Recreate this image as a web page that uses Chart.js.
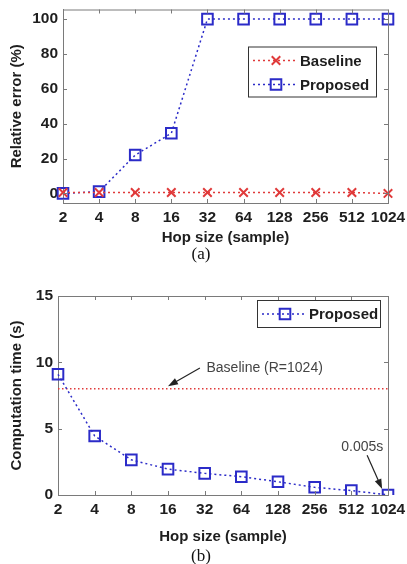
<!DOCTYPE html>
<html>
<head>
<meta charset="utf-8">
<script src="https://cdn.jsdelivr.net/npm/chart.js@4.4.1/dist/chart.umd.min.js"></script>
<style>
html, body { margin: 0; padding: 0; background: #fff; }
canvas { display: block; }
</style>
</head>
<body>
<canvas id="chartA" width="407" height="280"></canvas>
<canvas id="chartB" width="407" height="284"></canvas>
<script>
var hopSizes = ["2", "4", "8", "16", "32", "64", "128", "256", "512", "1024"];
var errorBaseline = [0.5, 0.5, 0.5, 0.5, 0.5, 0.5, 0.5, 0.5, 0.5, 0];
var errorProposed = [0, 1, 22, 34.5, 100, 100, 100, 100, 100, 100];
var errorTicks = [0, 20, 40, 60, 80, 100];
var timeProposed = [9.1, 4.45, 2.65, 1.95, 1.63, 1.38, 1.0, 0.58, 0.33, 0.005];
var timeBaseline = [8, 8, 8, 8, 8, 8, 8, 8, 8, 8];
var timeTicks = [0, 5, 10, 15];

var BLUE = "#2b2bc8";
var RED = "#e03a3a";
var FRAME = "#7a7a7a";
var TEXT = "#1e1e1e";
var tickFont = { family: "'Liberation Sans', Arial, sans-serif", size: 15.5, weight: "bold" };
var titleFont = { family: "'Liberation Sans', Arial, sans-serif", size: 15, weight: "bold" };

function drawArrow(ctx, x1, y1, x2, y2) {
  var a = Math.atan2(y2 - y1, x2 - x1);
  ctx.save();
  ctx.strokeStyle = "#222";
  ctx.fillStyle = "#222";
  ctx.lineWidth = 1.2;
  ctx.beginPath();
  ctx.moveTo(x1, y1);
  ctx.lineTo(x2 - 6 * Math.cos(a), y2 - 6 * Math.sin(a));
  ctx.stroke();
  ctx.beginPath();
  ctx.moveTo(x2, y2);
  ctx.lineTo(x2 - 10 * Math.cos(a) + 3.5 * Math.sin(a), y2 - 10 * Math.sin(a) - 3.5 * Math.cos(a));
  ctx.lineTo(x2 - 10 * Math.cos(a) - 3.5 * Math.sin(a), y2 - 10 * Math.sin(a) + 3.5 * Math.cos(a));
  ctx.closePath();
  ctx.fill();
  ctx.restore();
}

// frame, inward tick marks, legend box, notes and caption
var matlabPlugin = {
  id: "matlab",
  afterDraw: function (chart, args, opts) {
    var ctx = chart.ctx;
    var ca = chart.chartArea;
    var xs = chart.scales.x, ys = chart.scales.y;
    ctx.save();
    ctx.strokeStyle = FRAME;
    ctx.lineWidth = 1;
    ctx.beginPath();
    ctx.moveTo(ca.left, ca.top + 0.5);
    ctx.lineTo(ca.right + 0.5, ca.top + 0.5);
    ctx.lineTo(ca.right + 0.5, ca.bottom);
    ctx.stroke();
    ctx.beginPath();
    xs.ticks.forEach(function (t, i) {
      var px = Math.round(xs.getPixelForTick(i)) + 0.5;
      ctx.moveTo(px, ca.bottom); ctx.lineTo(px, ca.bottom - 4);
      ctx.moveTo(px, ca.top); ctx.lineTo(px, ca.top + 4);
    });
    ys.ticks.forEach(function (t) {
      var py = Math.round(ys.getPixelForValue(t.value)) + 0.5;
      ctx.moveTo(ca.left, py); ctx.lineTo(ca.left + 4, py);
      ctx.moveTo(ca.right, py); ctx.lineTo(ca.right - 4, py);
    });
    ctx.stroke();

    // legend
    var lg = opts.legend;
    var bx = ca.right - lg.right - lg.width, by = ca.top + lg.top;
    ctx.fillStyle = "#fff";
    ctx.fillRect(bx, by, lg.width, lg.height);
    ctx.strokeStyle = "#333";
    ctx.strokeRect(bx + 0.5, by + 0.5, lg.width, lg.height);
    lg.items.forEach(function (it, k) {
      var ds = chart.data.datasets[it];
      var ry = by + lg.rowTop + k * lg.rowGap;
      ctx.strokeStyle = ds.borderColor;
      ctx.lineWidth = 1.5;
      ctx.setLineDash([2, 3]);
      ctx.beginPath();
      ctx.moveTo(bx + 5, ry); ctx.lineTo(bx + 50, ry);
      ctx.stroke();
      ctx.setLineDash([]);
      ctx.fillStyle = "rgba(0,0,0,0)";
      ctx.strokeStyle = ds.pointBorderColor;
      ctx.lineWidth = ds.pointBorderWidth;
      Chart.helpers.drawPoint(ctx, { pointStyle: ds.pointStyle, radius: ds.pointRadius, borderWidth: ds.pointBorderWidth, rotation: 0 }, bx + 28, ry);
      ctx.fillStyle = TEXT;
      ctx.font = "bold 15px 'Liberation Sans', Arial, sans-serif";
      ctx.textAlign = "left";
      ctx.textBaseline = "middle";
      ctx.fillText(ds.label, bx + 52, ry + 1);
    });

    // notes
    (opts.notes || []).forEach(function (n) {
      var tx = xs.getPixelForValue(n.from[0]), ty = ys.getPixelForValue(n.from[1]);
      var hx = xs.getPixelForValue(n.to[0]), hy = ys.getPixelForValue(n.to[1]);
      drawArrow(ctx, tx, ty, hx, hy);
      ctx.fillStyle = "#444";
      ctx.font = "14px 'Liberation Sans', Arial, sans-serif";
      ctx.textAlign = n.align;
      ctx.textBaseline = "middle";
      ctx.fillText(n.text, xs.getPixelForValue(n.at[0]), ys.getPixelForValue(n.at[1]));
    });

    // caption
    ctx.fillStyle = "#111";
    ctx.font = "17px 'Liberation Serif', 'Times New Roman', serif";
    ctx.textAlign = "center";
    ctx.textBaseline = "middle";
    ctx.fillText(opts.caption, 201, opts.captionY);
    ctx.restore();
  }
};

function makeChart(id, cfg) {
  return new Chart(document.getElementById(id), {
    type: "line",
    data: { labels: hopSizes, datasets: cfg.datasets },
    plugins: [matlabPlugin],
    options: {
      responsive: false,
      animation: false,
      layout: { padding: { top: cfg.top, right: 19, left: 0, bottom: 0 } },
      plugins: {
        legend: { display: false },
        tooltip: { enabled: false },
        matlab: cfg.extra
      },
      scales: {
        x: {
          type: "category",
          offset: false,
          grid: { display: false, drawTicks: false },
          border: { display: true, color: FRAME, width: 1 },
          ticks: { color: TEXT, font: tickFont, padding: 5, maxRotation: 0, autoSkip: false },
          title: { display: true, text: "Hop size (sample)", color: TEXT, font: titleFont, padding: { top: 0, bottom: cfg.xTitlePad } },
          afterFit: function (s) { s.height = cfg.xHeight; s.paddingRight = 0; s.paddingLeft = 0; }
        },
        y: {
          min: cfg.yMin,
          max: cfg.yMax,
          grid: { display: false, drawTicks: false },
          border: { display: true, color: FRAME, width: 1 },
          ticks: { color: TEXT, font: tickFont, padding: 5 },
          afterBuildTicks: function (s) { s.ticks = cfg.yTicks.map(function (v) { return { value: v }; }); },
          title: { display: true, text: cfg.yTitle, color: TEXT, font: titleFont, padding: { top: 8, bottom: 0 } },
          afterFit: function (s) { s.width = cfg.yWidth; s.paddingTop = 0; s.paddingBottom = 0; }
        }
      }
    }
  });
}

makeChart("chartA", {
  top: 5, xHeight: 77, yWidth: 63, xTitlePad: 33,
  yMin: -5.5, yMax: 105.5, yTicks: errorTicks,
  yTitle: "Relative error (%)",
  datasets: [
    { label: "Baseline", data: errorBaseline, borderColor: RED, borderWidth: 1.5, borderDash: [2, 3],
      pointStyle: "crossRot", pointRadius: 6, pointBorderWidth: 2, pointBorderColor: RED, pointBackgroundColor: RED, fill: false },
    { label: "Proposed", data: errorProposed, borderColor: BLUE, borderWidth: 1.5, borderDash: [2, 3],
      pointStyle: "rect", pointRadius: 7.5, pointBorderWidth: 2, pointBorderColor: BLUE, pointBackgroundColor: "rgba(0,0,0,0)", fill: false }
  ],
  extra: {
    legend: { right: 12, top: 37, width: 128, height: 50, items: [0, 1], rowTop: 14, rowGap: 24 },
    caption: "(a)", captionY: 255
  }
});

makeChart("chartB", {
  top: 16, xHeight: 69, yWidth: 58, xTitlePad: 18,
  yMin: 0, yMax: 15, yTicks: timeTicks,
  yTitle: "Computation time (s)",
  datasets: [
    { label: "Proposed", data: timeProposed, borderColor: BLUE, borderWidth: 1.5, borderDash: [2, 3],
      pointStyle: "rect", pointRadius: 7.5, pointBorderWidth: 2, pointBorderColor: BLUE, pointBackgroundColor: "rgba(0,0,0,0)", fill: false },
    { label: "Baseline (R=1024)", data: timeBaseline, borderColor: RED, borderWidth: 1.5, borderDash: [1.5, 2.5],
      pointRadius: 0, fill: false }
  ],
  extra: {
    legend: { right: 8, top: 4, width: 123, height: 27, items: [0], rowTop: 14, rowGap: 24 },
    notes: [
      { text: "Baseline (R=1024)", at: [4.05, 9.57], from: [3.87, 9.57], to: [3.0, 8.2], align: "left" },
      { text: "0.005s", at: [8.3, 3.6], from: [8.43, 3.0], to: [8.84, 0.45], align: "center" }
    ],
    caption: "(b)", captionY: 277
  }
});
</script>
</body>
</html>
